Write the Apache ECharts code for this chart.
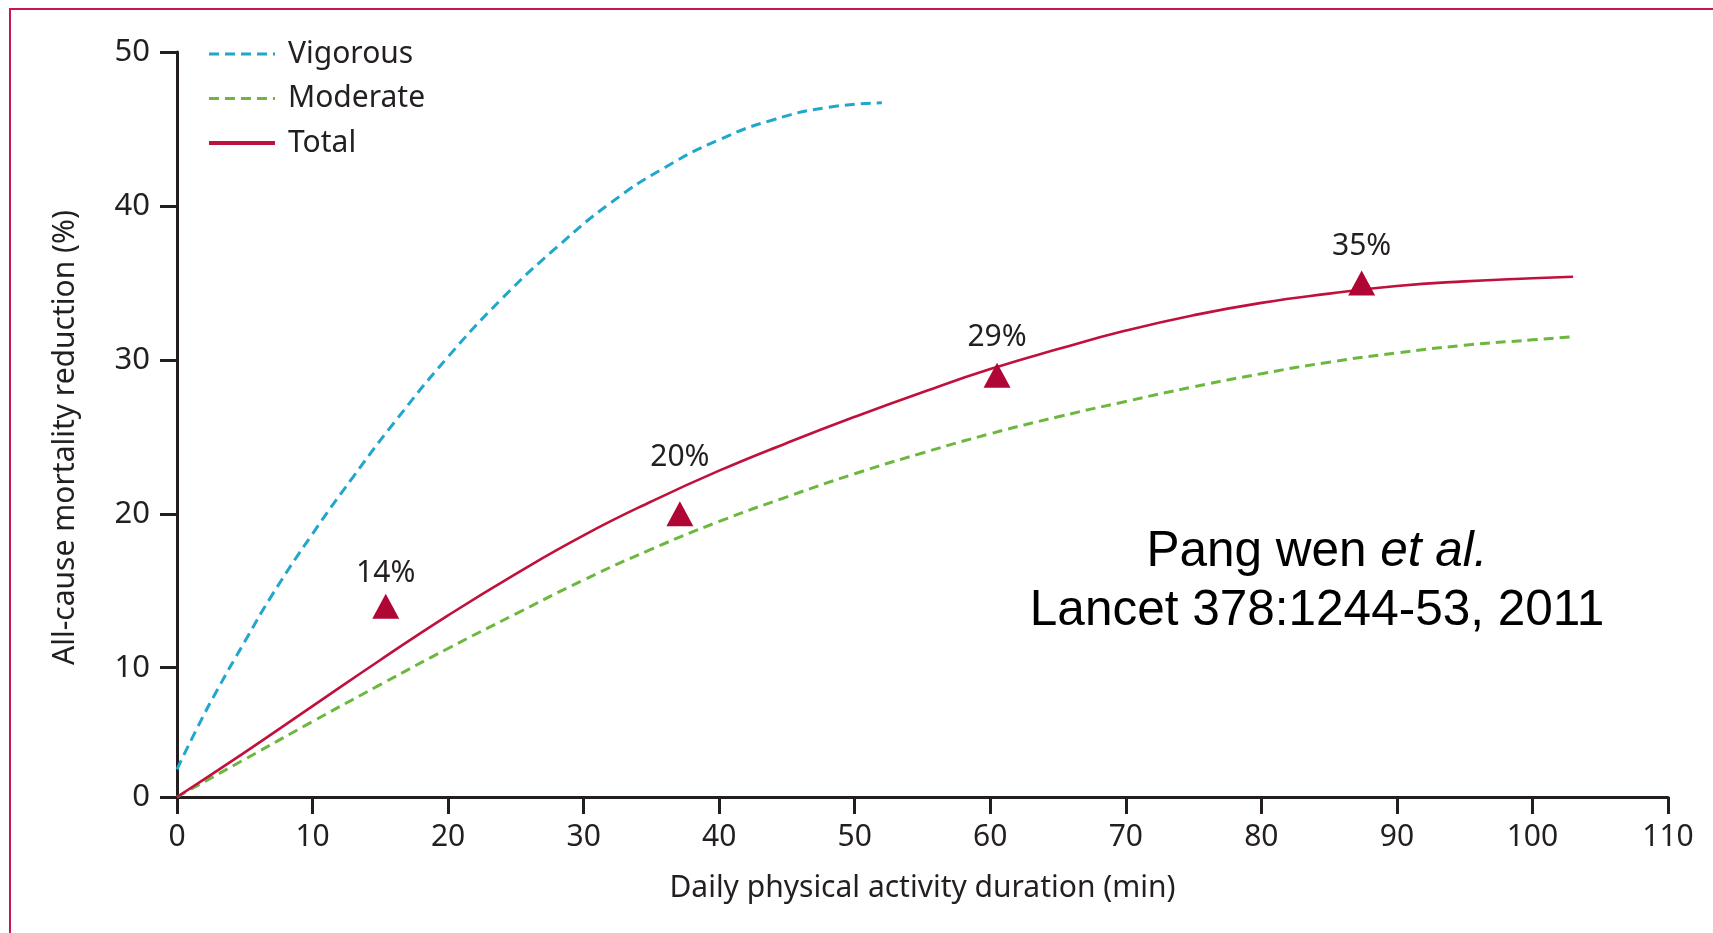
<!DOCTYPE html>
<html><head><meta charset="utf-8">
<script src="https://cdn.jsdelivr.net/npm/echarts@6/dist/echarts.min.js"></script>
<style>html,body{margin:0;padding:0;background:#fff}#c{width:1713px;height:933px}</style>
</head><body><div id="c"></div>
<script>
// ---- data ----
const xTicks = [0, 10, 20, 30, 40, 50, 60, 70, 80, 90, 100, 110];
// The figure's "0" tick sits at the axis line, slightly above the linear zero of the scale
const yTickValues = [1.6, 10, 20, 30, 40, 50];
const yTickLabels = ['0', '10', '20', '30', '40', '50'];

const vigorousX = [0, 1.5, 3, 5, 7, 10, 13, 16, 20, 24, 28, 32, 36, 40, 44, 48, 52];
const vigorousY = [3.4, 6.1, 8.6, 11.7, 14.7, 18.7, 22.4, 25.9, 30.2, 34.0, 37.3, 40.2, 42.5, 44.3, 45.6, 46.4, 46.7];

const moderateX = [0, 5, 10, 15, 20, 25, 30, 35, 40, 45, 50, 55, 60, 65, 70, 75, 80, 85, 90, 95, 100, 103];
const moderateY = [1.6, 4.05, 6.5, 8.9, 11.25, 13.5, 15.7, 17.7, 19.5, 21.1, 22.6, 23.95, 25.2, 26.3, 27.3, 28.25, 29.1, 29.85, 30.45, 30.95, 31.3, 31.5];

const totalX = [0, 5, 10, 15, 20, 25, 30, 35, 40, 45, 50, 55, 60, 65, 70, 75, 80, 85, 90, 95, 100, 103];
const totalY = [1.6, 4.5, 7.5, 10.5, 13.4, 16.1, 18.6, 20.8, 22.8, 24.6, 26.3, 27.9, 29.4, 30.7, 31.9, 32.9, 33.7, 34.3, 34.8, 35.1, 35.3, 35.4];

const observedX = [15.4, 37.1, 60.5, 87.4];
const observedY = [14, 20, 29, 35];
const observedLabels = ['14%', '20%', '29%', '35%'];

const seriesNames = ['Vigorous', 'Moderate', 'Total'];
const xTitle = 'Daily physical activity duration (min)';
const yTitle = 'All-cause mortality reduction (%)';
const noteLine1 = ['Pang wen ', 'et al.'];
const noteLine2 = 'Lancet 378:1244-53, 2011';

// ---- chart ----
const FONT = 'Noto Sans';
const INK = '#231f20';
const RED = '#c0103c';
const BLUE = '#21a6cc';
const GREEN = '#6cb83f';
const LABEL_GAP = [5, 29, 10, 9];
const zip = (xs, ys) => xs.map((x, i) => [x, ys[i]]);

const chart = echarts.init(document.getElementById('c'), null, {renderer: 'canvas'});
chart.setOption({
  backgroundColor: '#fff',
  animation: false,
  textStyle: {fontFamily: FONT},
  grid: {left: 177, right: 45, top: 52, bottom: 136, containLabel: false},
  legend: {
    data: [
      {name: seriesNames[0], lineStyle: {width: 3}},
      {name: seriesNames[1], lineStyle: {width: 3}},
      {name: seriesNames[2], lineStyle: {width: 4}}
    ],
    orient: 'vertical',
    left: 207, top: 39, padding: 0,
    itemWidth: 66, itemHeight: 14, itemGap: 14.5,
    itemStyle: {opacity: 0},
    textStyle: {fontSize: 30, color: INK, fontFamily: FONT, lineHeight: 30, padding: [0, 0, 0, 8]},
    selectedMode: false
  },
  xAxis: {
    type: 'value', min: 0, max: 110, interval: 10,
    name: xTitle, nameLocation: 'middle', nameGap: 76,
    nameTextStyle: {fontSize: 30, color: INK, fontFamily: FONT},
    axisLine: {show: true, onZero: false, lineStyle: {color: INK, width: 3}},
    axisTick: {show: true, length: 17, lineStyle: {color: INK, width: 3}},
    axisLabel: {fontSize: 30, color: INK, margin: 25, fontFamily: FONT,
      formatter: v => { const i = xTicks.indexOf(v); return i >= 0 ? String(xTicks[i]) : ''; }},
    splitLine: {show: false}
  },
  yAxis: {
    type: 'value', min: yTickValues[0], max: 50,
    name: yTitle, nameLocation: 'middle', nameGap: 97,
    nameTextStyle: {fontSize: 30, color: INK, fontFamily: FONT, padding: [0, 26, 0, 0]},
    axisLine: {show: true, onZero: false, lineStyle: {color: INK, width: 3}},
    axisTick: {show: true, length: 17, customValues: yTickValues, lineStyle: {color: INK, width: 3}},
    axisLabel: {fontSize: 31, color: INK, margin: 27, fontFamily: FONT, customValues: yTickValues,
      formatter: v => { const i = yTickValues.indexOf(v); return i >= 0 ? yTickLabels[i] : ''; }},
    splitLine: {show: false}
  },
  series: [
    {name: seriesNames[0], type: 'line', smooth: true, symbol: 'none', data: zip(vigorousX, vigorousY),
      lineStyle: {color: BLUE, width: 3, type: [10, 6]}, itemStyle: {color: BLUE}},
    {name: seriesNames[1], type: 'line', smooth: true, symbol: 'none', data: zip(moderateX, moderateY),
      lineStyle: {color: GREEN, width: 3, type: [10, 6]}, itemStyle: {color: GREEN}},
    {name: seriesNames[2], type: 'line', smooth: true, symbol: 'none', data: zip(totalX, totalY),
      lineStyle: {color: RED, width: 2.6}, itemStyle: {color: RED}},
    {name: 'Observed', type: 'scatter', symbol: 'triangle', symbolSize: [27, 25], z: 5,
      data: observedX.map((x, i) => ({value: [x, observedY[i]],
        label: {formatter: observedLabels[i], distance: LABEL_GAP[i]}})),
      itemStyle: {color: '#b00636', opacity: 1},
      label: {show: true, position: 'top', fontSize: 30, color: INK, fontFamily: FONT}}
  ],
  graphic: [
    {type: 'rect', silent: true, z: 100, shape: {x: 10, y: 9, width: 1760, height: 980},
      style: {fill: 'none', stroke: '#c8174a', lineWidth: 2}},
    {type: 'text', silent: true, x: 1317, y: 552,
      style: {text: '{n|' + noteLine1[0] + '}{i|' + noteLine1[1] + '}', align: 'center', verticalAlign: 'middle',
        rich: {n: {fontFamily: 'Liberation Sans', fontSize: 49.5, fill: '#000'},
               i: {fontFamily: 'Liberation Sans', fontSize: 49.5, fontStyle: 'italic', fill: '#000'}}}},
    {type: 'text', silent: true, x: 1317, y: 611,
      style: {text: noteLine2, fontFamily: 'Liberation Sans', fontSize: 49.5, fill: '#000', align: 'center', verticalAlign: 'middle'}}
  ]
});
</script>
</body></html>
